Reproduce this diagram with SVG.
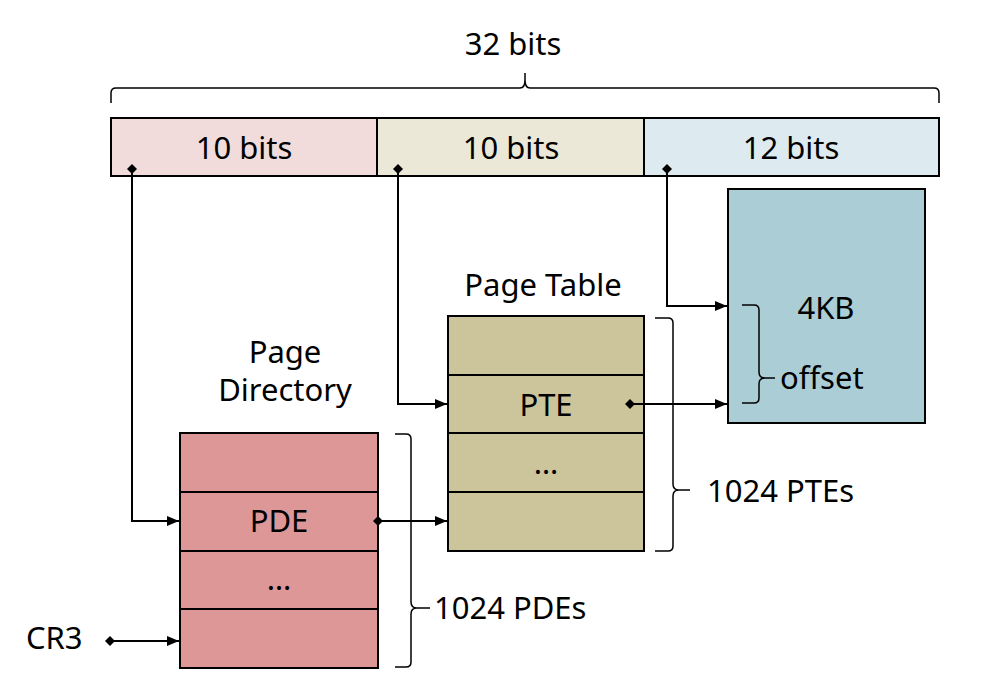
<svg xmlns="http://www.w3.org/2000/svg" width="1001" height="684" viewBox="0 0 1001 684">
<style>
text{font-family:"Noto Sans","Open Sans","DejaVu Sans",sans-serif;font-size:31px;fill:#000;}
.c{text-anchor:middle}
.box{stroke:#000;stroke-width:2}
.ln{fill:none;stroke:#000;stroke-width:2}
.br{fill:none;stroke:#000;stroke-width:1.5}
</style>
<defs>
<marker id="ah" viewBox="0 0 12 10" refX="12" refY="5" markerWidth="12" markerHeight="10" markerUnits="userSpaceOnUse" orient="auto"><path d="M0,0 L12,5 L0,10 Z" fill="#000"/></marker>
<marker id="dm" viewBox="0 0 10 10" refX="5" refY="5" markerWidth="10" markerHeight="10" markerUnits="userSpaceOnUse" orient="auto"><path d="M0,5 L5,0 L10,5 L5,10 Z" fill="#000"/></marker>
</defs>
<rect width="1001" height="684" fill="#fff"/>
<g id="width-label">
<path class="br" d="M111,103 V93 Q111,88 116,88 H520 Q525,88 525,80 V73 M525,80 Q525,88 530,88 H934 Q939,88 939,93 V103"/>
<text class="c" x="513" y="55">32 bits</text>
</g>
<g id="bits-dir">
<rect class="box" x="111" y="118" width="266" height="58" fill="#F2DCDB"/>
<text class="c" x="244" y="159">10 bits</text>
</g>
<g id="bits-table">
<rect class="box" x="377" y="118" width="267" height="58" fill="#EBE8D7"/>
<text class="c" x="511" y="159">10 bits</text>
</g>
<g id="bits-offset">
<rect class="box" x="644" y="118" width="295" height="58" fill="#DDEBF0"/>
<text class="c" x="791" y="159">12 bits</text>
</g>
<g id="page">
<rect class="box" x="728" y="189" width="197" height="234" fill="#AACDD6"/>
<text class="c" x="826" y="319">4KB</text>
<path class="br" d="M742,305 H754 Q759,305 759,310 V372 Q759,378 765,378 H775 M765,378 Q759,378 759,384 V398 Q759,403 754,403 H742"/>
<text x="780" y="389">offset</text>
</g>
<g id="page-table">
<text class="c" x="543" y="296">Page Table</text>
<rect class="box" x="448" y="316" width="196" height="235" fill="#CCC49A"/>
<path class="ln" d="M448,375 H644 M448,433 H644 M448,492 H644"/>
<text class="c" x="546" y="416">PTE</text>
<text class="c" x="546" y="474">…</text>
<path class="br" d="M655,318 H668 Q673,318 673,323 V484 Q673,490 679,490 H690 M679,490 Q673,490 673,496 V546 Q673,551 668,551 H655"/>
<text x="707" y="502">1024 PTEs</text>
</g>
<g id="page-directory">
<text class="c" x="285" y="363">Page</text>
<text class="c" x="285" y="401">Directory</text>
<rect class="box" x="180" y="433" width="198" height="235" fill="#DE9797"/>
<path class="ln" d="M180,492 H378 M180,551 H378 M180,609 H378"/>
<text class="c" x="279" y="532">PDE</text>
<text class="c" x="279" y="590">…</text>
<path class="br" d="M395,434 H406 Q411,434 411,439 V602 Q411,608 417,608 H430 M417,608 Q411,608 411,614 V662 Q411,667 406,667 H395"/>
<text x="434" y="619">1024 PDEs</text>
</g>
<g id="cr3">
<text x="26" y="649">CR3</text>
</g>
<g id="connectors">
<path class="ln" d="M132,169 V521 H179" marker-start="url(#dm)" marker-end="url(#ah)"/>
<path class="ln" d="M398,169 V404 H447" marker-start="url(#dm)" marker-end="url(#ah)"/>
<path class="ln" d="M667,169 V306 H727" marker-start="url(#dm)" marker-end="url(#ah)"/>
<path class="ln" d="M630,404 H727" marker-start="url(#dm)" marker-end="url(#ah)"/>
<path class="ln" d="M378,521 H447" marker-start="url(#dm)" marker-end="url(#ah)"/>
<path class="ln" d="M110,641 H179" marker-start="url(#dm)" marker-end="url(#ah)"/>
</g>
</svg>
